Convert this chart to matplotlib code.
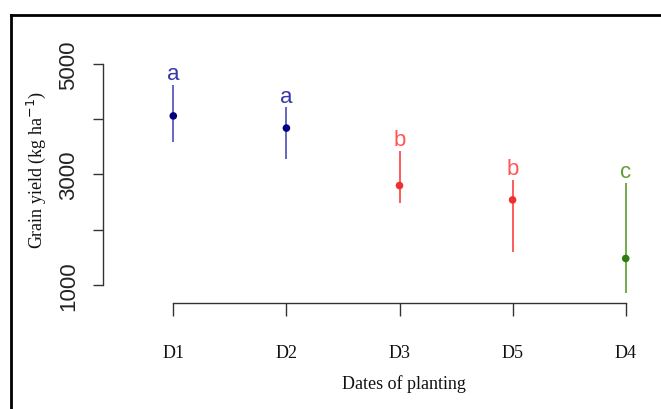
import matplotlib
matplotlib.use("Agg")
import matplotlib.pyplot as plt
from matplotlib.lines import Line2D

# Data
dates = ["D1", "D2", "D3", "D5", "D4"]
means = [4060, 3840, 2800, 2540, 1480]
lower = [3590, 3280, 2480, 1600, 855]
upper = [4620, 4215, 3430, 2900, 2845]
letters = ["a", "a", "b", "b", "c"]
yticks = [1000, 2000, 3000, 4000, 5000]
ytick_labels = ["1000", "", "3000", "", "5000"]

point_colors = ["#000080", "#000080", "#f03030", "#f03030", "#2e7d10"]
line_colors = ["#6666c4", "#6666c4", "#ff5a5a", "#ff5a5a", "#72aa4a"]
letter_colors = ["#3838a8", "#3838a8", "#ff5555", "#ff5555", "#5f9e30"]

W, H = 661, 410
fig = plt.figure(figsize=(W / 100, H / 100), dpi=100)
ax = fig.add_axes([103 / W, (H - 304) / H, (655 - 103) / W, (304 - 50) / H])

x = list(range(len(dates)))
ax.vlines(x, lower, upper, colors=line_colors, linewidth=1.4, zorder=2)
ax.scatter(x, means, s=30, c=point_colors, zorder=3, linewidths=0)
for xi, up, lab, col in zip(x, upper, letters, letter_colors):
    ax.annotate(lab, (xi, up), xytext=(0, 8), textcoords="offset points",
                ha="center", va="center", color=col, fontsize=16,
                family=["Liberation Sans Narrow", "Liberation Sans", "DejaVu Sans"])

ax.set_xlim(-0.6216, 4.259)
ax.set_ylim(674, 5271)

for s in ["top", "right"]:
    ax.spines[s].set_visible(False)
for s in ["left", "bottom"]:
    ax.spines[s].set_color("#333333")
    ax.spines[s].set_linewidth(1.0)
ax.spines["left"].set_bounds(1000, 5000)
ax.spines["bottom"].set_bounds(0, 4)

ax.set_yticks(yticks)
ax.set_yticklabels(ytick_labels, rotation=90, va="center",
                   fontsize=16, family=["Liberation Sans", "DejaVu Sans"])
ax.set_xticks(x)
ax.set_xticklabels(dates, fontsize=13, family=["Liberation Serif", "DejaVu Serif"])
ax.tick_params(axis="y", length=7.2, width=1.0, color="#333333", pad=10, labelcolor="#222222")
ax.tick_params(axis="x", length=9.4, width=1.0, color="#333333", pad=20, labelcolor="#111111")

ax.set_xlabel("Dates of planting", fontsize=13, family=["Liberation Serif", "DejaVu Serif"], color="#111111")
ax.xaxis.set_label_coords((404 - 103) / 552, (304 - 384) / 254)
ax.xaxis.label.set_va("center")
ax.set_ylabel("Grain yield (kg ha$^{-1}$)", fontsize=13, family=["Liberation Serif", "DejaVu Serif"], color="#111111")
ax.yaxis.set_label_coords((36 - 103) / 552, (304 - 170) / 254)
ax.yaxis.label.set_va("center")

# outer frame (left and top edges)
fx = 11 / W
fy = (H - 16) / H
fig.add_artist(Line2D([fx, fx], [0, fy], transform=fig.transFigure, color="black", linewidth=2.0))
fig.add_artist(Line2D([fx, 1], [fy, fy], transform=fig.transFigure, color="black", linewidth=2.0))

fig.savefig("out.png", dpi=100)
